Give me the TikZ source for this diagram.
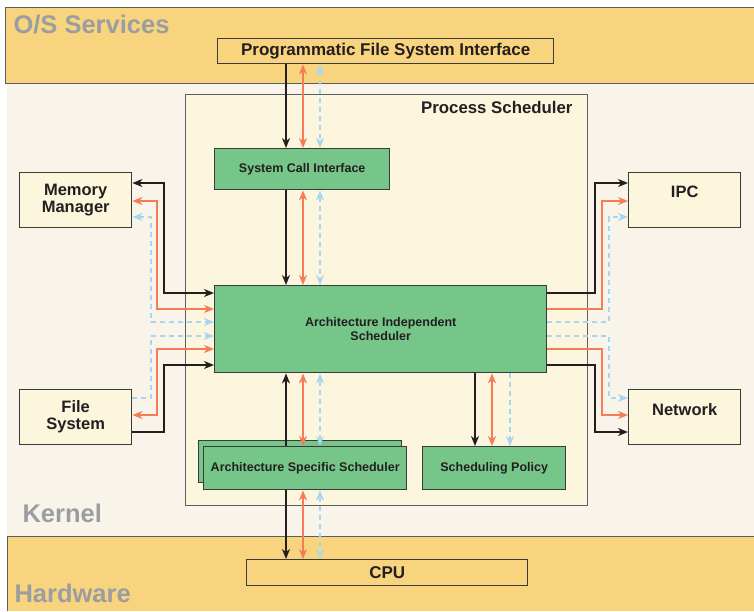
\documentclass[tikz,border=0pt]{standalone}
\usepackage{fontspec}
\setmainfont{Liberation Sans}
\usetikzlibrary{arrows.meta}

\definecolor{osbg}{HTML}{F9D47E}
\definecolor{kernelbg}{HTML}{F8F4E9}
\definecolor{psbg}{HTML}{FCF6DE}
\definecolor{greenfill}{HTML}{76C589}
\definecolor{creamfill}{HTML}{FCF6DC}
\definecolor{titlegray}{HTML}{9A9DA1}
\definecolor{kcol}{HTML}{231F20}
\definecolor{ocol}{HTML}{F47C56}
\definecolor{bcol}{HTML}{A8D5F0}
\definecolor{bordc}{HTML}{3A3A3A}
\definecolor{bandline}{HTML}{5E5E5E}

\tikzset{
  >={Stealth[length=10pt,width=8pt,inset=3pt]},
  anybox/.style={draw=bordc, line width=1.4pt, inner sep=0pt, anchor=north west,
    text=kcol, align=center},
  greenbox/.style={anybox, fill=greenfill, font=\fontsize{12.5}{13.5}\selectfont\bfseries},
  creambox/.style={anybox, fill=creamfill, font=\fontsize{16.5}{17}\selectfont\bfseries},
  orangebox/.style={anybox, fill=osbg, font=\fontsize{17}{18}\selectfont\bfseries},
  bandtitle/.style={anchor=base west, text=titlegray, font=\fontsize{25.5}{26}\selectfont\bfseries},
  kline/.style={draw=kcol, line width=1.4pt},
  oline/.style={draw=ocol, line width=1.4pt},
  bline/.style={draw=bcol, line width=1.4pt, dash pattern=on 5pt off 4pt},
}

\begin{document}
\begin{tikzpicture}[x=1pt,y=-1pt]
\useasboundingbox (0,0) rectangle (754,611);
\fill[white] (0,0) rectangle (754,611);

% layer bands
\fill[kernelbg] (7,83) rectangle (754,536);
\fill[osbg] (5,7) rectangle (754,83);
\draw[bandline, line width=1pt] (754,7) -- (5,7) -- (5,83) -- (754,83);
\fill[osbg] (7,536) rectangle (754,611);
\draw[bandline, line width=1pt] (754,536) -- (7,536) -- (7,611);

\node[bandtitle] (tos) at (10,33) {O/S Services};
\node[bandtitle] (tker) at (19,522) {Kernel};
\node[bandtitle] (thw) at (11,602) {Hardware};

% process scheduler frame
\node[draw=bandline, line width=1pt, fill=psbg, inner sep=0pt, anchor=north west,
      minimum width=402pt, minimum height=411pt] (ps) at (185,94) {};
\node[anchor=base east, text=kcol, font=\fontsize{16.8}{17}\selectfont\bfseries]
      (pslabel) at (576,113) {Process Scheduler};

% boxes
\node[orangebox, minimum width=336pt, minimum height=25pt] (pfsi) at (217,38)
      {Programmatic File System Interface};
\node[orangebox, minimum width=281pt, minimum height=26pt] (cpu) at (246,559) {CPU};

\node[greenbox, minimum width=175pt, minimum height=41pt] (sci) at (214,148)
      {System Call Interface};
\node[greenbox, minimum width=332pt, minimum height=87pt] (ais) at (214,285)
      {Architecture Independent\\Scheduler};
\node[greenbox, minimum width=203pt, minimum height=42pt] (assback) at (198,440) {};
\node[greenbox, minimum width=203pt, minimum height=43pt] (ass) at (203,446)
      {Architecture Specific Scheduler};
\node[greenbox, minimum width=143pt, minimum height=43pt] (sp) at (422,446)
      {Scheduling Policy};

\node[creambox, minimum width=112pt, minimum height=55pt] (mm) at (19,172)
      {Memory\\Manager};
\node[creambox, minimum width=112pt, minimum height=55pt] (fs) at (19,389)
      {File\\System};
\node[creambox, minimum width=112pt, minimum height=55pt, text height=12pt, text depth=17pt]
      (ipc) at (628,172) {IPC};
\node[creambox, minimum width=112pt, minimum height=55pt, text height=12pt, text depth=15pt]
      (net) at (628,389) {Network};

% connector columns and rows
\coordinate (ck) at (286,0);  \coordinate (co) at (303,0);  \coordinate (cb) at (320,0);
\coordinate (sk) at (475,0);  \coordinate (so) at (492,0);  \coordinate (sb) at (510,0);
\coordinate (lk) at (164,0);  \coordinate (lo) at (157,0);  \coordinate (lb) at (151,0);
\coordinate (rk) at (595,0);  \coordinate (ro) at (602,0);  \coordinate (rb) at (609,0);
\coordinate (mA) at (0,183);  \coordinate (mB) at (0,201);  \coordinate (mC) at (0,217);
\coordinate (aA) at (0,293);  \coordinate (aB) at (0,309);  \coordinate (aC) at (0,322);
\coordinate (aD) at (0,336);  \coordinate (aE) at (0,349);  \coordinate (aF) at (0,365);
\coordinate (fA) at (0,398);  \coordinate (fB) at (0,415);  \coordinate (fC) at (0,432);

% vertical links
\draw[kline,->]  (pfsi.south -| ck) -- (sci.north -| ck);
\draw[oline,<->] (pfsi.south -| co) -- (sci.north -| co);
\draw[bline,<->] (pfsi.south -| cb) -- (sci.north -| cb);

\draw[kline,->]  (sci.south -| ck) -- (ais.north -| ck);
\draw[oline,<->] (sci.south -| co) -- (ais.north -| co);
\draw[bline,<->] (sci.south -| cb) -- (ais.north -| cb);

\draw[kline,->]  (ass.north -| ck) -- (ais.south -| ck);
\draw[oline,<->] (ass.north -| co) -- (ais.south -| co);
\draw[bline,<->] (ass.north -| cb) -- (ais.south -| cb);

\draw[kline,->]  (ais.south -| sk) -- (sp.north -| sk);
\draw[oline,<->] (ais.south -| so) -- (sp.north -| so);
\draw[bline,->]  (ais.south -| sb) -- (sp.north -| sb);

\draw[kline,->]  (ass.south -| ck) -- (cpu.north -| ck);
\draw[oline,<->] (ass.south -| co) -- (cpu.north -| co);
\draw[bline,<->] (ass.south -| cb) -- (cpu.north -| cb);

% left side links
\draw[kline,<->] (mm.east |- mA) -| (lk |- aA) -- (ais.west |- aA);
\draw[oline,<->] (mm.east |- mB) -| (lo |- aB) -- (ais.west |- aB);
\draw[bline,<->] (mm.east |- mC) -| (lb |- aC) -- (ais.west |- aC);
\draw[bline,->]  (fs.east |- fA) -| (lb |- aD) -- (ais.west |- aD);
\draw[oline,<->] (fs.east |- fB) -| (lo |- aE) -- (ais.west |- aE);
\draw[kline,->]  (fs.east |- fC) -| (lk |- aF) -- (ais.west |- aF);

% right side links
\draw[kline,->] (ais.east |- aA) -| (rk |- mA) -- (ipc.west |- mA);
\draw[oline,->] (ais.east |- aB) -| (ro |- mB) -- (ipc.west |- mB);
\draw[bline,->] (ais.east |- aC) -| (rb |- mC) -- (ipc.west |- mC);
\draw[bline,->] (ais.east |- aD) -| (rb |- fA) -- (net.west |- fA);
\draw[oline,->] (ais.east |- aE) -| (ro |- fB) -- (net.west |- fB);
\draw[kline,->] (ais.east |- aF) -| (rk |- fC) -- (net.west |- fC);
\end{tikzpicture}
\end{document}
